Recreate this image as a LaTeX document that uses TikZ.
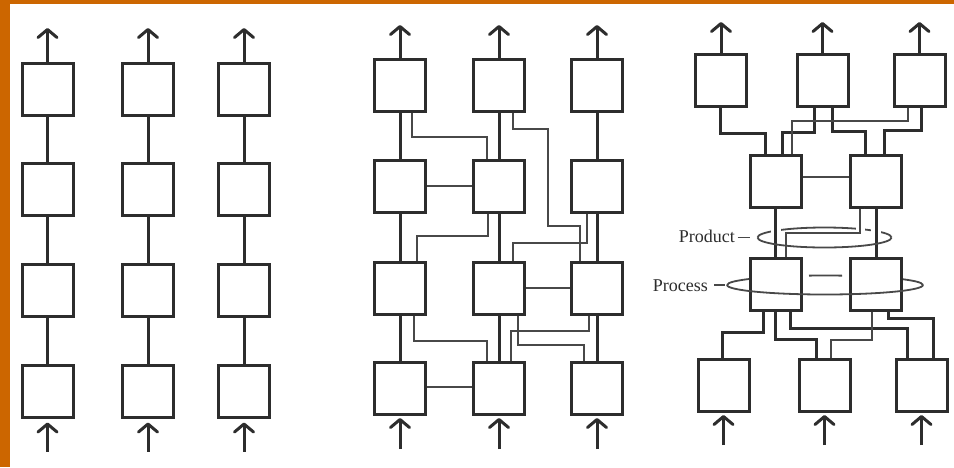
\documentclass[tikz,border=0pt]{standalone}
\usepackage{fontspec}
\setmainfont{Liberation Serif}
\usetikzlibrary{arrows.meta}
\definecolor{frameorange}{RGB}{204,102,0}
\definecolor{ink}{RGB}{45,45,45}
\definecolor{inklight}{RGB}{72,72,72}

\begin{document}
\begin{tikzpicture}[x=1pt,y=-1pt,
  box/.style={draw=ink, fill=white, line width=3pt, minimum width=51pt,
              minimum height=52pt, inner sep=0pt},
  trunk/.style={draw=ink, line width=3pt},
  branch/.style={draw=inklight, line width=1.8pt},
  ring/.style={draw=inklight, line width=1.8pt},
  halo/.style={draw=white, line width=10pt},
  arr/.style={draw=ink, line width=3pt,
              -{Straight Barb[length=8pt,width=19pt,round]}},
  lbl/.style={inner sep=0pt, text=ink, font=\fontsize{18}{20}\selectfont},
]
\useasboundingbox (0,0) rectangle (954,467);
\fill[white] (0,0) rectangle (954,467);
% frame strips
\fill[frameorange] (0,0) rectangle (10,467);
\fill[frameorange] (0,0) rectangle (954,4);

% ---------- independent chains ----------
\foreach \c/\x in {1/47.5,2/148,3/244}{
  \foreach \r/\y in {1/89.5,2/189,3/290.5,4/391}
    \node[box] (L\c\r) at (\x,\y) {};
  \draw[arr] (L\c1.north) -- ++(0,-34);
  \draw[trunk] (L\c1.south) -- (L\c2.north);
  \draw[trunk] (L\c2.south) -- (L\c3.north);
  \draw[trunk] (L\c3.south) -- (L\c4.north);
  \draw[arr, shorten >=4pt] ([yshift=-33pt]L\c4.south) -- (L\c4.south);
}

% ---------- cross-linked chains ----------
\foreach \c/\x in {A/400,B/499,C/597}{
  \foreach \r/\y in {1/85.5,2/186,3/288,4/388.5}
    \node[box] (\c\r) at (\x,\y) {};
  \draw[arr] (\c1.north) -- ++(0,-33);
  \draw[trunk] (\c1.south) -- (\c2.north);
  \draw[trunk] (\c2.south) -- (\c3.north);
  \draw[trunk] (\c3.south) -- (\c4.north);
  \draw[arr, shorten >=2pt] ([yshift=-33pt]\c4.south) -- (\c4.south);
}
\draw[branch] ([xshift=12pt]A1.south) -- ++(0,24) -| ([xshift=-12pt]B2.north);
\draw[branch] ([xshift=14pt]B1.south) -- ++(0,16) -- ++(35,0) -- ++(0,97)
              -| ([xshift=-17pt]C3.north);
\draw[branch] (A2.east) -- (B2.west);
\draw[branch] ([xshift=-11pt]B2.south) -- ++(0,22.5) -| ([xshift=17pt]A3.north);
\draw[branch] ([xshift=-10pt]C2.south) -- ++(0,29.5) -| ([xshift=14pt]B3.north);
\draw[branch] (B3.east) -- (C3.west);
\draw[branch] ([xshift=14pt]A3.south) -- ++(0,25.5) -| ([xshift=-12pt]B4.north);
\draw[branch] ([xshift=-8pt]C3.south) -- ++(0,15.5) -| ([xshift=12pt]B4.north);
\draw[branch] ([xshift=19pt]B3.south) -- ++(0,29.5) -| ([xshift=-13pt]C4.north);
\draw[branch] ([yshift=1.5pt]A4.east) -- ([yshift=1.5pt]B4.west);

% ---------- converging / diverging structure ----------
% rear halves of the two rings
\draw[ring] (727,285) arc[start angle=180, end angle=225, x radius=98, y radius=9.5];
\draw[ring] (825,285) ++(260.6:98 and 9.5)
            arc[start angle=260.6, end angle=280, x radius=98, y radius=9.5];
\draw[ring] (825,285) ++(315:98 and 9.5)
            arc[start angle=315, end angle=360, x radius=98, y radius=9.5];
\draw[ring] (757.5,237.5) arc[start angle=180, end angle=360, x radius=67, y radius=10];
\coordinate (prodring) at (757.5,237.5);
\coordinate (procring) at (727,285);

\node[box] (out1) at (721,80.5) {};
\node[box] (out2) at (822.5,80.5) {};
\node[box] (out3) at (919.5,80.5) {};
\node[box] (prod1) at (775.5,181) {};
\node[box] (prod2) at (876,181) {};
\node[box] (proc1) at (775.5,284) {};
\node[box] (proc2) at (876,284) {};
\node[box] (in1) at (723.5,385) {};
\node[box] (in2) at (824.5,385) {};
\node[box] (in3) at (921.5,385) {};

\foreach \n in {out1,out2,out3}
  \draw[arr] (\n.north) -- ++(0,-31);
\foreach \n in {in1,in2,in3}
  \draw[arr, shorten >=2.5pt] ([yshift=-32.5pt]\n.south) -- (\n.south);

\draw[trunk] ([xshift=-1pt]out1.south) -- ++(0,25) -| ([xshift=-10.5pt]prod1.north);
\draw[trunk] ([xshift=-8.5pt]out2.south) -- ++(0,24) -| ([xshift=6.5pt]prod1.north);
\draw[trunk] ([xshift=9.5pt]out2.south) -- ++(0,23) -| ([xshift=-11pt]prod2.north);
\draw[trunk] ([xshift=1.5pt]out3.south) -- ++(0,22) -| ([xshift=8pt]prod2.north);
\draw[branch] ([xshift=-11.5pt]out3.south) -- ++(0,13) -| ([xshift=16.5pt]prod1.north);
\draw[branch] ([yshift=4pt]prod1.east) -- ([yshift=4pt]prod2.west);

% wires through the product ring break its rear half
\draw[halo] (prod1.south) -- (proc1.north);
\draw[halo] (prod2.south) -- (proc2.north);
\draw[halo, line width=9pt] ([xshift=-16pt]prod2.south) -- ++(0,24.5);

\draw[trunk] (prod1.south) -- (proc1.north);
\draw[trunk] (prod2.south) -- (proc2.north);
\draw[branch] ([xshift=-16pt]prod2.south) -- ++(0,24.5) -| ([xshift=10.5pt]proc1.north);

\draw[trunk] ([xshift=-12.5pt]proc1.south) -- ++(0,20.5) -| ([xshift=-1.5pt]in1.north);
\draw[trunk] ([xshift=-0.5pt]proc1.south) -- ++(0,27.5) -| ([xshift=-8.5pt]in2.north);
\draw[trunk] ([xshift=14.5pt]proc1.south) -- ++(0,16.5) -| ([xshift=-14.5pt]in3.north);
\draw[trunk] ([xshift=12pt]proc2.south) -- ++(0,6.5) -| ([xshift=11.5pt]in3.north);
\draw[branch] ([xshift=-4pt]proc2.south) -- ++(0,28.5) -| ([xshift=6.5pt]in2.north);

% front halves of the rings
\draw[ring] (prodring) arc[start angle=180, end angle=0, x radius=67, y radius=10];
\draw[ring] (procring) arc[start angle=180, end angle=0, x radius=98, y radius=9.5];

% labels
\node[lbl, anchor=base east] (prodlbl) at (735,242) {Product};
\node[lbl, anchor=base east] (proclbl) at (708,291) {Process};
\draw[ring, shorten <=2.5pt, shorten >=7.5pt] (prodring -| prodlbl.east) -- (prodring);
\draw[ring, shorten <=6pt, shorten >=2pt] (procring -| proclbl.east) -- (procring);
\end{tikzpicture}
\end{document}
